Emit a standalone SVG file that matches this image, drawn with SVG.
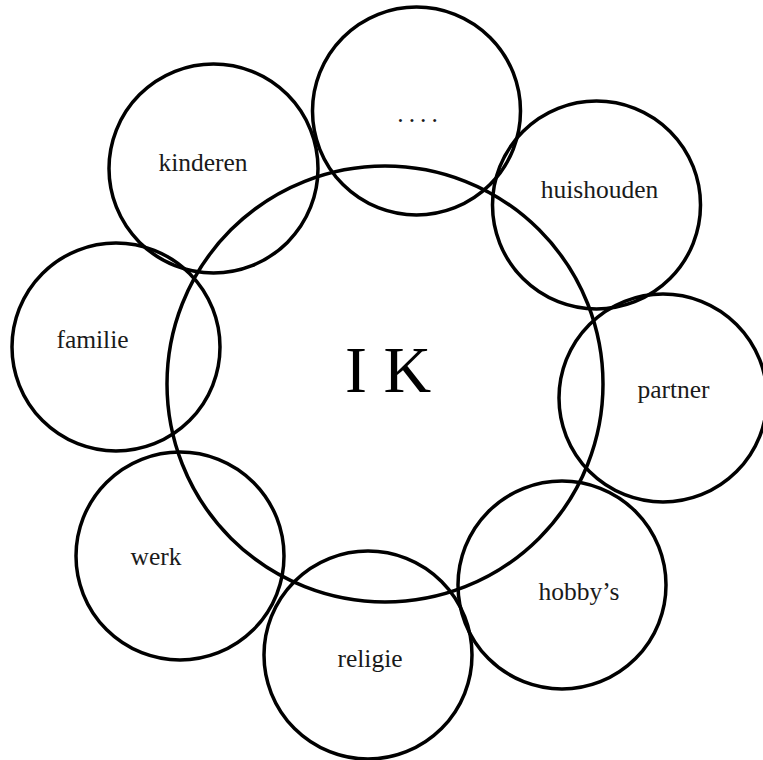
<svg xmlns="http://www.w3.org/2000/svg" width="763" height="760" viewBox="0 0 763 760">
<style>
.c{fill:none;stroke:#000;stroke-width:3.5}
.t{font-family:"Liberation Serif","Times New Roman",serif;font-size:25.5px;fill:#1a1a1a;text-anchor:middle}
.big{font-family:"Liberation Serif","Times New Roman",serif;font-size:66px;fill:#000;text-anchor:middle}
</style>
<rect width="763" height="760" fill="#fff"/>
<g id="ik"><circle class="c" cx="385" cy="384" r="218"/><text class="big" x="388" y="392">I K</text></g>
<g id="dots"><circle class="c" cx="416.5" cy="111" r="104"/><text class="t" x="420" y="122" letter-spacing="5">....</text></g>
<g id="kinderen"><circle class="c" cx="213.5" cy="168.5" r="104.5"/><text class="t" x="203" y="171">kinderen</text></g>
<g id="huishouden"><circle class="c" cx="596.5" cy="205" r="104"/><text class="t" x="599.5" y="198">huishouden</text></g>
<g id="familie"><circle class="c" cx="116" cy="347" r="104"/><text class="t" x="92.5" y="348">familie</text></g>
<g id="partner"><circle class="c" cx="663" cy="398" r="104"/><text class="t" x="673.5" y="398">partner</text></g>
<g id="werk"><circle class="c" cx="180" cy="556" r="104"/><text class="t" x="156" y="565">werk</text></g>
<g id="hobbys"><circle class="c" cx="562" cy="585" r="104"/><text class="t" x="579" y="600">hobby’s</text></g>
<g id="religie"><circle class="c" cx="368" cy="655" r="104"/><text class="t" x="370" y="667">religie</text></g>
<g id="connectors"></g>
</svg>
